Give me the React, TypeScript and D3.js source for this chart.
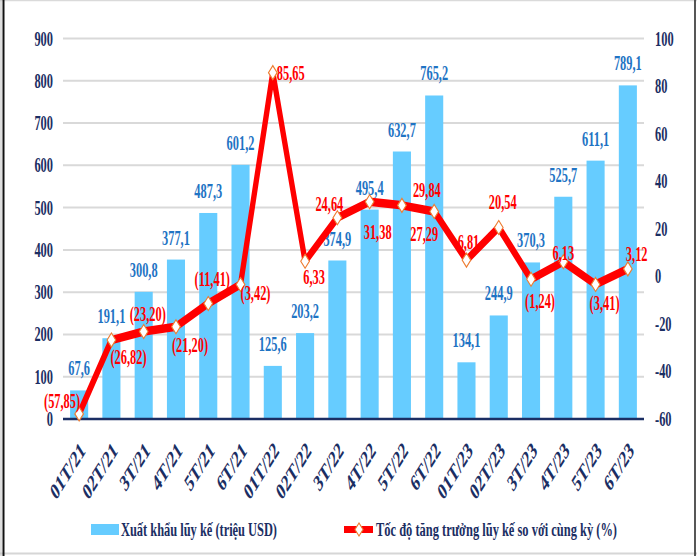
import React from "react";
import * as d3 from "d3";

const categories = ["01T/21","02T/21","3T/21","4T/21","5T/21","6T/21","01T/22","02T/22","3T/22","4T/22","5T/22","6T/22","01T/23","02T/23","3T/23","4T/23","5T/23","6T/23"];
const exportValues = [67.6,191.1,300.8,377.1,487.3,601.2,125.6,203.2,374.9,495.4,632.7,765.2,134.1,244.9,370.3,525.7,611.1,789.1];
const growthValues = [-57.85,-26.82,-23.20,-21.20,-11.41,-3.42,85.65,6.33,24.64,31.38,29.84,27.29,6.81,20.54,-1.24,6.13,-3.41,3.12];
const leftTicks = [0,100,200,300,400,500,600,700,800,900];
const rightTicks = [-60,-40,-20,0,20,40,60,80,100];
const legendLabels = ["Xuất khẩu lũy kế (triệu USD)", "Tốc độ tăng trưởng lũy kế so với cùng kỳ (%)"];
// label offsets (dx, dy, anchor) for growth labels
const growthLabelOffsets: [number, number, string][] = [
  [1, -6, "end"], [-1, 24, "start"], [4, -10, "middle"], [-4, 25, "start"], [4, -17, "middle"], [0, 16, "start"],
  [4, 7, "start"], [9, 23, "middle"], [-8, -7, "middle"], [8, 37, "middle"], [11, -8, "start"], [-10, 30, "middle"],
  [2, -11, "middle"], [4, -18, "middle"], [9, 29, "middle"], [0, -2, "middle"], [9, 26, "middle"], [-2, -8, "start"],
];

const SX = 0.62;
const FONT = "'Liberation Serif', 'Times New Roman', serif";
const NAVY = "#1B2E63";
const BAR = "#66CCFF";
const BARLABEL = "#1F74C4";
const RED = "#FF0000";
const ORANGE = "#ED7D31";

function fmt1(v: number) { return v.toFixed(1).replace(".", ","); }
function fmt2(v: number) { const s = Math.abs(v).toFixed(2).replace(".", ","); return v < 0 ? `(${s})` : s; }

const T = ({ x, y, children, anchor = "middle", fill = NAVY, size = 20, rotate = 0, dy }: any) => (
  <text
    transform={`translate(${x},${y}) scale(${SX},1)${rotate ? ` rotate(${rotate})` : ""}`}
    textAnchor={anchor}
    fill={fill}
    fontSize={size}
    fontWeight="bold"
    fontFamily={FONT}
    dy={dy}
  >
    {children}
  </text>
);

export default function App() {
  const W = 697, H = 556;
  const left = 63, right = 644, top = 38.5, bottom = 419;
  const x = d3.scaleBand<string>().domain(categories).range([left, right]).paddingInner(0.44).paddingOuter(0.22);
  const yL = d3.scaleLinear().domain([0, 900]).range([bottom, top]);
  const yR = d3.scaleLinear().domain([-60, 100]).range([bottom, top]);
  const cx = (c: string) => (x(c) as number) + x.bandwidth() / 2;

  const linePts: [number, number][] = categories.map((c, i) => [cx(c) / SX, yR(growthValues[i])]);
  const lineGen = d3.line();
  const diamond = (px: number, py: number, r: number) => `M${px},${py - r}L${px + r},${py}L${px},${py + r}L${px - r},${py}Z`;

  return (
    <div style={{ position: "absolute", left: 0, top: 0 }}>
      <svg width={W} height={H} style={{ display: "block", background: "#fff" }}>
        {/* frame */}
        <line x1={0} y1={0.5} x2={W} y2={0.5} stroke="#DADADA" strokeWidth={1.5} />
        <line x1={0} y1={553.5} x2={W} y2={553.5} stroke="#D6D6D6" strokeWidth={2} />
        <line x1={1} y1={0} x2={1} y2={H} stroke="#BDBDBD" strokeWidth={1} />
        <line x1={3.5} y1={0} x2={3.5} y2={H} stroke="#111" strokeWidth={2} />
        <line x1={695} y1={0} x2={695} y2={H} stroke="#444" strokeWidth={1.8} />

        {/* gridlines */}
        {leftTicks.filter(t => t > 0).map(t => (
          <line key={t} x1={left} x2={right} y1={yL(t)} y2={yL(t)} stroke="#D9D9D9" strokeWidth={2} />
        ))}

        {/* bars */}
        {categories.map((c, i) => (
          <rect key={c} x={x(c)} y={yL(exportValues[i])} width={x.bandwidth()} height={bottom - yL(exportValues[i])} fill={BAR} />
        ))}

        {/* zero axis */}
        <line x1={left} x2={right} y1={bottom} y2={bottom} stroke={NAVY} strokeWidth={2.5} />

        {/* bar labels */}
        {categories.map((c, i) => (
          <T key={c} x={cx(c)} y={yL(exportValues[i]) - 15} fill={BARLABEL}>{fmt1(exportValues[i])}</T>
        ))}

        {/* line + markers (squeezed) */}
        <g transform={`scale(${SX},1)`}>
          <path d={lineGen(linePts) as string} fill="none" stroke={RED} strokeWidth={8.5} strokeLinejoin="round" />
          {linePts.map((p, i) => (
            <path key={i} d={diamond(p[0], p[1], 7)} fill="#fff" stroke={ORANGE} strokeWidth={1.5} />
          ))}
        </g>

        {/* growth labels */}
        {categories.map((c, i) => {
          const [dx, dy, a] = growthLabelOffsets[i];
          return (
            <T key={c} x={cx(c) + dx} y={yR(growthValues[i]) + dy} anchor={a} fill={RED}>{fmt2(growthValues[i])}</T>
          );
        })}

        {/* left axis labels */}
        {leftTicks.map(t => (
          <T key={t} x={53} y={yL(t) + 7} anchor="end">{t}</T>
        ))}
        {/* right axis labels */}
        {rightTicks.map(t => (
          <T key={t} x={655} y={yR(t) + 7} anchor="start">{t}</T>
        ))}

        {/* x labels */}
        {categories.map(c => (
          <T key={c} x={cx(c) + 4} y={447} anchor="end" rotate={-45} dy="0.3em" size={23.5}>{c}</T>
        ))}

        {/* legend */}
        <rect x={91} y={524} width={28} height={11} fill={BAR} />
        <text x={121} y={536} fontSize={18} fontWeight="bold" fontFamily={FONT} fill={NAVY} textLength={156} lengthAdjust="spacingAndGlyphs">{legendLabels[0]}</text>
        <line x1={344} x2={373} y1={529.5} y2={529.5} stroke={RED} strokeWidth={7} />
        <g transform={`scale(${SX},1)`}>
          <path d={diamond(359 / SX, 529.5, 6.5)} fill="#fff" stroke={ORANGE} strokeWidth={1.5} />
        </g>
        <text x={376} y={536} fontSize={18} fontWeight="bold" fontFamily={FONT} fill={NAVY} textLength={241} lengthAdjust="spacingAndGlyphs">{legendLabels[1]}</text>
      </svg>
    </div>
  );
}
